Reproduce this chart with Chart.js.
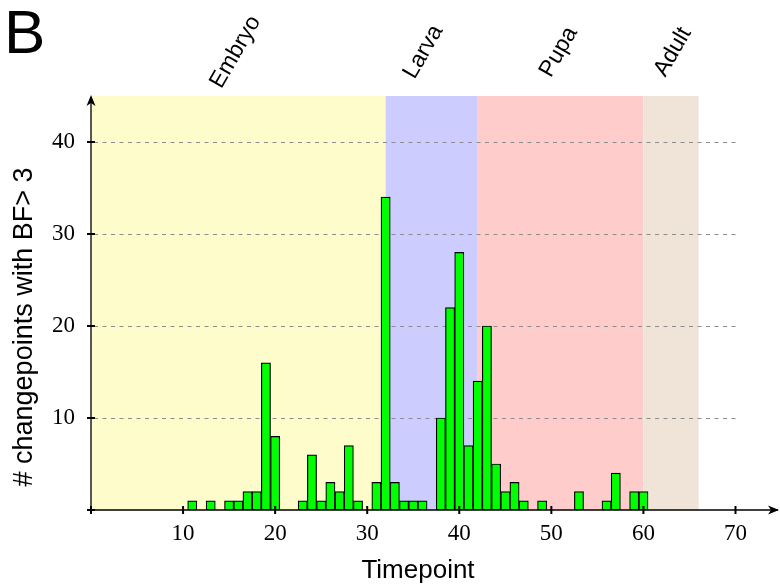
<!DOCTYPE html>
<html>
<head>
<meta charset="utf-8">
<script src="https://cdn.jsdelivr.net/npm/chart.js@4.4.1/dist/chart.umd.min.js"></script>
<style>
    html, body { margin: 0; padding: 0; background: #fff; }
</style>
</head>
<body>
<canvas id="myChart" width="780" height="588"></canvas>
<script>
// Dados do gráfico
const timepoints = [11, 13, 15, 16, 17, 18, 19, 20, 23, 24, 25, 26, 27, 28, 29, 31, 32, 33, 34, 35, 36, 38, 39, 40, 41, 42, 43, 44, 45, 46, 47, 49, 53, 56, 57, 59, 60];
const changepoints = [1, 1, 1, 1, 2, 2, 16, 8, 1, 6, 1, 3, 2, 7, 1, 3, 34, 3, 1, 1, 1, 10, 22, 28, 7, 14, 20, 5, 2, 3, 1, 1, 2, 1, 4, 2, 2];

const stageNames = ['Embryo', 'Larva', 'Pupa', 'Adult'];
const stageStart = [0, 32, 42, 60];
const stageEnd = [32, 42, 60, 66];
const stageLabelX = [15.7, 36.1, 50.8, 63.2];
const stageColors = ['#FFFCCC', '#CCCCFF', '#FFCCCC', '#F0E4D8'];

const xTicks = [10, 20, 30, 40, 50, 60, 70];
const yTicks = [10, 20, 30, 40];

function arrow(ctx, x, y, dir) {
    // ponta de seta preenchida
    ctx.save();
    ctx.translate(x, y);
    ctx.rotate(dir);
    ctx.beginPath();
    ctx.moveTo(0, 0);
    ctx.lineTo(-11, -4.5);
    ctx.lineTo(-8, 0);
    ctx.lineTo(-11, 4.5);
    ctx.closePath();
    ctx.fill();
    ctx.restore();
}

const stagePlugin = {
    id: 'stages',
    beforeDatasetsDraw(chart) {
        const ctx = chart.ctx;
        const area = chart.chartArea;
        const xs = chart.scales.x;
        const ys = chart.scales.y;
        ctx.save();
        // faixas dos estágios
        stageNames.forEach((name, i) => {
            const x0 = xs.getPixelForValue(stageStart[i]);
            const x1 = xs.getPixelForValue(stageEnd[i]);
            ctx.fillStyle = stageColors[i];
            ctx.fillRect(x0, area.top, x1 - x0, area.bottom - area.top);
        });
        // linhas de grade tracejadas
        ctx.strokeStyle = '#8c8c8c';
        ctx.lineWidth = 1;
        ctx.setLineDash([4, 4.5]);
        yTicks.forEach(v => {
            const y = Math.round(ys.getPixelForValue(v)) + 0.5;
            ctx.beginPath();
            ctx.moveTo(xs.getPixelForValue(0) + 3, y);
            ctx.lineTo(xs.getPixelForValue(70), y);
            ctx.stroke();
        });
        ctx.restore();
    },
    afterDatasetsDraw(chart) {
        const ctx = chart.ctx;
        const area = chart.chartArea;
        const xs = chart.scales.x;
        const ys = chart.scales.y;
        const x0 = xs.getPixelForValue(0);
        const y0 = ys.getPixelForValue(0);
        ctx.save();
        ctx.strokeStyle = '#000';
        ctx.fillStyle = '#000';
        ctx.lineWidth = 1.3;
        // eixos
        ctx.beginPath();
        ctx.moveTo(x0 - 3, y0);
        ctx.lineTo(area.right + 2, y0);
        ctx.moveTo(x0, y0 + 3);
        ctx.lineTo(x0, area.top + 2);
        ctx.stroke();
        arrow(ctx, area.right + 3, y0, 0);
        arrow(ctx, x0, area.top - 1, -Math.PI / 2);
        // marcas dos ticks
        ctx.lineWidth = 2;
        [0].concat(xTicks).forEach(v => {
            const x = xs.getPixelForValue(v);
            ctx.beginPath();
            ctx.moveTo(x, y0 - 4);
            ctx.lineTo(x, y0 + 4);
            ctx.stroke();
        });
        [0].concat(yTicks).forEach(v => {
            const y = ys.getPixelForValue(v);
            ctx.beginPath();
            ctx.moveTo(x0 - 4, y);
            ctx.lineTo(x0 + 4, y);
            ctx.stroke();
        });
        // rótulos dos estágios
        ctx.font = '23px "Liberation Sans"';
        ctx.textAlign = 'center';
        ctx.textBaseline = 'middle';
        stageNames.forEach((name, i) => {
            ctx.save();
            ctx.translate(xs.getPixelForValue(stageLabelX[i]), 52);
            ctx.rotate(-Math.PI / 3);
            ctx.fillText(name, 0, 0);
            ctx.restore();
        });
        // títulos dos eixos
        ctx.font = '26px "Liberation Sans"';
        ctx.textBaseline = 'alphabetic';
        ctx.fillText('Timepoint', 418, 578);
        ctx.save();
        ctx.translate(25, 327);
        ctx.rotate(-Math.PI / 2);
        ctx.textBaseline = 'middle';
        ctx.font = '27px "Liberation Sans"';
        ctx.fillText('# changepoints with BF> 3', 0, 0);
        ctx.restore();
        // letra do painel
        ctx.font = '62px "Liberation Sans"';
        ctx.textAlign = 'left';
        ctx.textBaseline = 'alphabetic';
        ctx.fillText('B', 4, 53);
        ctx.restore();
    }
};

const ctx = document.getElementById('myChart').getContext('2d');
new Chart(ctx, {
    type: 'bar',
    data: {
        datasets: [{
            data: timepoints.map((t, i) => ({ x: t, y: changepoints[i] })),
            backgroundColor: '#00FF00',
            borderColor: '#000000',
            borderWidth: 1.2,
            borderSkipped: false,
            barPercentage: 1,
            categoryPercentage: 1
        }]
    },
    options: {
        responsive: false,
        animation: false,
        layout: { padding: { left: 0, right: 4, top: 96, bottom: 0 } },
        plugins: { legend: { display: false }, tooltip: { enabled: false } },
        scales: {
            x: {
                type: 'linear',
                offset: false,
                min: 0,
                max: 74.4,
                grid: { display: false, drawTicks: false, offset: false },
                border: { display: false },
                afterBuildTicks: s => { s.ticks = xTicks.map(v => ({ value: v })); },
                afterFit: s => { s.height = 78; },
                ticks: { color: '#000', padding: 10, maxRotation: 0, font: { family: 'Liberation Serif', size: 23 } }
            },
            y: {
                min: 0,
                max: 45,
                grid: { display: false, drawTicks: false },
                border: { display: false },
                afterBuildTicks: s => { s.ticks = yTicks.map(v => ({ value: v })); },
                afterFit: s => { s.width = 91; },
                ticks: { color: '#000', padding: 16, font: { family: 'Liberation Serif', size: 23 } }
            }
        }
    },
    plugins: [stagePlugin]
});
</script>
</body>
</html>
